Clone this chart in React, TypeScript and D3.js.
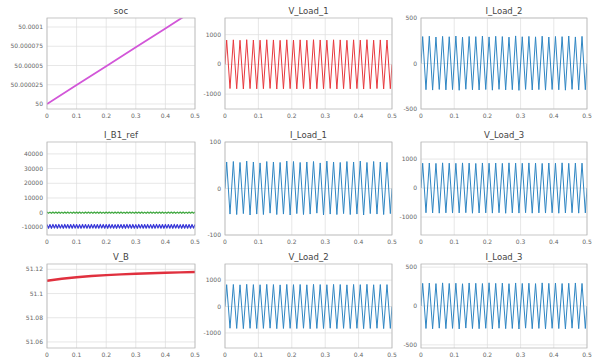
import React from "react";
import * as d3 from "d3";

// ---- shared time axis ----
const X_TICKS = [0, 0.1, 0.2, 0.3, 0.4, 0.5];
const X_TICK_LABELS = ["0", "0.1", "0.2", "0.3", "0.4", "0.5"];

// ---- soc ----
const SOC_T = [0, 0.1, 0.2, 0.3, 0.4, 0.5];
const SOC_V = [50, 50.0000246, 50.0000491, 50.0000737, 50.0000982, 50.0001228];
const SOC_TICKS = [50, 50.000025, 50.00005, 50.000075, 50.0001];
const SOC_TICK_LABELS = ["50", "50.000025", "50.00005", "50.000075", "50.0001"];

// ---- V_B ----
const VB_T = [0, 0.05, 0.1, 0.15, 0.2, 0.25, 0.3, 0.35, 0.4, 0.45, 0.5];
const VB_V = [51.1105, 51.1122, 51.1135, 51.1145, 51.1152, 51.1158, 51.1163, 51.1168, 51.1172, 51.1175, 51.1178];
const VB_TICKS = [51.06, 51.08, 51.1, 51.12];
const VB_TICK_LABELS = ["51.06", "51.08", "51.1", "51.12"];

// ---- I_B1_ref (two rippling currents, per-ripple extremes) ----
const IB_GREEN_HIGH = [420, 380, 450, 400, 430, 390, 410, 440, 370, 420, 400, 450, 380, 430, 410, 390, 440, 400, 420, 380, 450, 410, 390, 430, 400, 420, 380, 440, 410, 390, 430, 400, 450, 380, 420, 410, 390, 440, 400, 430, 380, 420, 410, 450, 390, 400, 430, 380, 420, 410];
const IB_GREEN_LOW = [-400, -430, -380, -420, -410, -440, -390, -400, -430, -380, -420, -410, -440, -390, -400, -430, -380, -420, -410, -440, -390, -400, -430, -380, -420, -410, -440, -390, -400, -430, -380, -420, -410, -440, -390, -400, -430, -380, -420, -410, -440, -390, -400, -430, -380, -420, -410, -440, -390, -400];
const IB_BLUE_HIGH = [-8050, -8120, -7980, -8100, -8030, -8150, -8000, -8080, -8110, -7990, -8060, -8130, -8020, -8090, -8140, -8010, -8070, -8100, -7970, -8050, -8120, -8000, -8080, -8150, -8030, -8060, -8110, -7990, -8090, -8040, -8130, -8010, -8070, -8100, -8020, -8140, -8050, -7980, -8090, -8120, -8030, -8060, -8110, -8000, -8080, -8150, -8040, -8070, -8100, -8020];
const IB_BLUE_LOW = [-10550, -10620, -10480, -10600, -10530, -10650, -10500, -10580, -10610, -10490, -10560, -10630, -10520, -10590, -10640, -10510, -10570, -10600, -10470, -10550, -10620, -10500, -10580, -10650, -10530, -10560, -10610, -10490, -10590, -10540, -10630, -10510, -10570, -10600, -10520, -10640, -10550, -10480, -10590, -10620, -10530, -10560, -10610, -10500, -10580, -10650, -10540, -10570, -10600, -10520];
const IB_TICKS = [-10000, 0, 10000, 20000, 30000, 40000];
const IB_TICK_LABELS = ["-10000", "0", "10000", "20000", "30000", "40000"];

// ---- 50 Hz load waveforms: positive and negative peak of each cycle ----
const V_LOAD_1_PEAKS = [818, 825, 812, 830, 820, 815, 828, 822, 810, 826, 819, 824, 813, 829, 821, 816, 827, 823, 811, 825, 818, 830, 814, 822, 820];
const V_LOAD_1_TROUGHS = [-812, -820, -826, -815, -822, -818, -810, -828, -821, -816, -824, -813, -829, -819, -823, -811, -826, -817, -822, -815, -828, -820, -813, -825, -818];
const I_LOAD_2_PEAKS = [296, 300, 291, 298, 294, 302, 289, 297, 295, 301, 292, 299, 296, 290, 303, 294, 298, 293, 300, 291, 297, 295, 302, 292, 298];
const I_LOAD_2_TROUGHS = [-288, -292, -285, -290, -287, -294, -283, -289, -291, -286, -293, -284, -290, -288, -295, -285, -291, -287, -292, -286, -289, -293, -284, -290, -288];
const I_LOAD_1_PEAKS = [57, 58, 56, 59, 57, 55, 58, 57, 56, 59, 58, 56, 57, 58, 55, 59, 57, 56, 58, 57, 59, 56, 58, 57, 56];
const I_LOAD_1_TROUGHS = [-55, -56, -54, -57, -55, -56, -53, -56, -55, -57, -54, -56, -55, -53, -57, -55, -56, -54, -56, -55, -57, -54, -55, -56, -54];
const V_LOAD_3_PEAKS = [858, 865, 852, 870, 860, 855, 868, 862, 850, 866, 859, 864, 853, 869, 861, 856, 867, 863, 851, 865, 858, 870, 854, 862, 860];
const V_LOAD_3_TROUGHS = [-852, -860, -866, -855, -862, -858, -850, -868, -861, -856, -864, -853, -869, -859, -863, -851, -866, -857, -862, -855, -868, -860, -853, -865, -858];
const V_LOAD_2_PEAKS = [828, 835, 822, 840, 830, 825, 838, 832, 820, 836, 829, 834, 823, 839, 831, 826, 837, 833, 821, 835, 828, 840, 824, 832, 830];
const V_LOAD_2_TROUGHS = [-822, -830, -836, -825, -832, -828, -820, -838, -831, -826, -834, -823, -839, -829, -833, -821, -836, -827, -832, -825, -838, -830, -823, -835, -828];
const I_LOAD_3_PEAKS = [291, 295, 288, 297, 290, 293, 286, 296, 292, 289, 298, 291, 294, 287, 296, 290, 293, 288, 297, 291, 295, 289, 292, 296, 290];
const I_LOAD_3_TROUGHS = [-289, -293, -285, -291, -288, -295, -284, -290, -292, -287, -294, -286, -291, -289, -296, -285, -292, -288, -293, -287, -290, -294, -285, -291, -289];

const TICKS_1000 = [-1000, 0, 1000];
const TICKS_500 = [-500, 0, 500];
const TICKS_100 = [-100, 0, 100];

type Pt = [number, number];

// Zigzag through alternating extremes, starting and ending on zero.
function zigzag(highs: number[], lows: number[], span: number, start = 0): Pt[] {
  const n = highs.length;
  const period = span / n;
  const pts: Pt[] = [[0, start]];
  for (let i = 0; i < n; i++) {
    pts.push([i * period + period / 4, highs[i]]);
    pts.push([i * period + (3 * period) / 4, lows[i]]);
  }
  pts.push([span, start]);
  return pts;
}

function rippleBand(highs: number[], lows: number[], span: number): Pt[] {
  const n = highs.length;
  const period = span / n;
  const pts: Pt[] = [];
  for (let i = 0; i < n; i++) {
    pts.push([i * period, highs[i]]);
    pts.push([i * period + period / 2, lows[i]]);
  }
  pts.push([span, highs[n - 1]]);
  return pts;
}

interface Series {
  pts: Pt[];
  color: string;
  width: number;
}

interface PanelProps {
  id: string;
  title: string;
  x0: number;
  x1: number;
  y0: number;
  y1: number;
  yDomain: [number, number];
  yTicks: number[];
  yTickLabels: string[];
  series: Series[];
}

const FONT = "'DejaVu Sans', sans-serif";

function Panel(p: PanelProps) {
  const x = d3.scaleLinear().domain([0, 0.5]).range([p.x0, p.x1]);
  const y = d3.scaleLinear().domain(p.yDomain).range([p.y1, p.y0]);
  const line = d3
    .line<Pt>()
    .x((d) => x(d[0]))
    .y((d) => y(d[1]));
  const clipId = `clip-${p.id}`;
  return (
    <g>
      <defs>
        <clipPath id={clipId}>
          <rect x={p.x0} y={p.y0} width={p.x1 - p.x0} height={p.y1 - p.y0} />
        </clipPath>
      </defs>
      <rect x={p.x0} y={p.y0} width={p.x1 - p.x0} height={p.y1 - p.y0} fill="#fff" />
      {X_TICKS.map((t) => (
        <line key={`vx${t}`} x1={x(t)} x2={x(t)} y1={p.y0} y2={p.y1} stroke="#dcdcdc" strokeWidth={0.7} />
      ))}
      {p.yTicks.map((t) => (
        <line key={`hy${t}`} x1={p.x0} x2={p.x1} y1={y(t)} y2={y(t)} stroke="#dcdcdc" strokeWidth={0.7} />
      ))}
      <g clipPath={`url(#${clipId})`}>
        {p.series.map((s, i) => (
          <path
            key={i}
            d={line(s.pts) || ""}
            fill="none"
            stroke={s.color}
            strokeWidth={s.width}
            strokeLinejoin="round"
          />
        ))}
      </g>
      <rect
        x={p.x0}
        y={p.y0}
        width={p.x1 - p.x0}
        height={p.y1 - p.y0}
        fill="none"
        stroke="#b8b8b8"
        strokeWidth={0.8}
      />
      {X_TICKS.map((t, i) => (
        <text
          key={`xl${t}`}
          x={x(t)}
          y={p.y1 + 9}
          fontSize={6}
          fontFamily={FONT}
          fill="#666"
          textAnchor="middle"
        >
          {X_TICK_LABELS[i]}
        </text>
      ))}
      {p.yTicks.map((t, i) => (
        <text
          key={`yl${t}`}
          x={p.x0 - 4}
          y={y(t) + 2}
          fontSize={6}
          fontFamily={FONT}
          fill="#666"
          textAnchor="end"
        >
          {p.yTickLabels[i]}
        </text>
      ))}
      <text
        x={(p.x0 + p.x1) / 2}
        y={p.y0 - 4}
        fontSize={8.5}
        fontFamily={FONT}
        fill="#444"
        textAnchor="middle"
      >
        {p.title}
      </text>
    </g>
  );
}

const COL = [
  [47, 195],
  [225, 392],
  [421, 587],
];
const ROW = [
  [18, 109],
  [142, 235],
  [264, 348],
];

const RED = "#e8383d";
const BLUE = "#2f86c3";

export default function App() {
  const toPts = (ts: number[], vs: number[]): Pt[] => ts.map((t, i) => [t, vs[i]]);
  const panels: PanelProps[] = [
    {
      id: "soc",
      title: "soc",
      x0: COL[0][0], x1: COL[0][1], y0: ROW[0][0], y1: ROW[0][1],
      yDomain: [49.9999935, 50.0001117],
      yTicks: SOC_TICKS,
      yTickLabels: SOC_TICK_LABELS,
      series: [{ pts: toPts(SOC_T, SOC_V), color: "#d256d8", width: 1.8 }],
    },
    {
      id: "vl1",
      title: "V_Load_1",
      x0: COL[1][0], x1: COL[1][1], y0: ROW[0][0], y1: ROW[0][1],
      yDomain: [-1500, 1560],
      yTicks: TICKS_1000,
      yTickLabels: ["-1000", "0", "1000"],
      series: [{ pts: zigzag(V_LOAD_1_PEAKS, V_LOAD_1_TROUGHS, 0.5), color: RED, width: 1 }],
    },
    {
      id: "il2",
      title: "I_Load_2",
      x0: COL[2][0], x1: COL[2][1], y0: ROW[0][0], y1: ROW[0][1],
      yDomain: [-500, 500],
      yTicks: TICKS_500,
      yTickLabels: ["-500", "0", "500"],
      series: [{ pts: zigzag(I_LOAD_2_PEAKS, I_LOAD_2_TROUGHS, 0.5), color: BLUE, width: 1 }],
    },
    {
      id: "ib1",
      title: "I_B1_ref",
      x0: COL[0][0], x1: COL[0][1], y0: ROW[1][0], y1: ROW[1][1],
      yDomain: [-15200, 48100],
      yTicks: IB_TICKS,
      yTickLabels: IB_TICK_LABELS,
      series: [
        { pts: rippleBand(IB_GREEN_HIGH, IB_GREEN_LOW, 0.5), color: "#3fa83f", width: 1.2 },
        { pts: rippleBand(IB_BLUE_HIGH, IB_BLUE_LOW, 0.5), color: "#3535d8", width: 1.2 },
      ],
    },
    {
      id: "il1",
      title: "I_Load_1",
      x0: COL[1][0], x1: COL[1][1], y0: ROW[1][0], y1: ROW[1][1],
      yDomain: [-100, 100],
      yTicks: TICKS_100,
      yTickLabels: ["-100", "0", "100"],
      series: [{ pts: zigzag(I_LOAD_1_PEAKS, I_LOAD_1_TROUGHS, 0.5), color: BLUE, width: 1 }],
    },
    {
      id: "vl3",
      title: "V_Load_3",
      x0: COL[2][0], x1: COL[2][1], y0: ROW[1][0], y1: ROW[1][1],
      yDomain: [-1620, 1590],
      yTicks: TICKS_1000,
      yTickLabels: ["-1000", "0", "1000"],
      series: [{ pts: zigzag(V_LOAD_3_PEAKS, V_LOAD_3_TROUGHS, 0.5), color: BLUE, width: 1 }],
    },
    {
      id: "vb",
      title: "V_B",
      x0: COL[0][0], x1: COL[0][1], y0: ROW[2][0], y1: ROW[2][1],
      yDomain: [51.055, 51.1244],
      yTicks: VB_TICKS,
      yTickLabels: VB_TICK_LABELS,
      series: [{ pts: toPts(VB_T, VB_V), color: "#e0303e", width: 2.4 }],
    },
    {
      id: "vl2",
      title: "V_Load_2",
      x0: COL[1][0], x1: COL[1][1], y0: ROW[2][0], y1: ROW[2][1],
      yDomain: [-1570, 1610],
      yTicks: TICKS_1000,
      yTickLabels: ["-1000", "0", "1000"],
      series: [{ pts: zigzag(V_LOAD_2_PEAKS, V_LOAD_2_TROUGHS, 0.5), color: BLUE, width: 1 }],
    },
    {
      id: "il3",
      title: "I_Load_3",
      x0: COL[2][0], x1: COL[2][1], y0: ROW[2][0], y1: ROW[2][1],
      yDomain: [-540, 540],
      yTicks: TICKS_500,
      yTickLabels: ["-500", "0", "500"],
      series: [{ pts: zigzag(I_LOAD_3_PEAKS, I_LOAD_3_TROUGHS, 0.5), color: BLUE, width: 1 }],
    },
  ];

  return (
    <svg
      width={599}
      height={360}
      style={{ position: "absolute", left: 0, top: 0, background: "#fff" }}
    >
      <rect width={599} height={360} fill="#fff" />
      {panels.map((p) => (
        <Panel key={p.id} {...p} />
      ))}
    </svg>
  );
}
